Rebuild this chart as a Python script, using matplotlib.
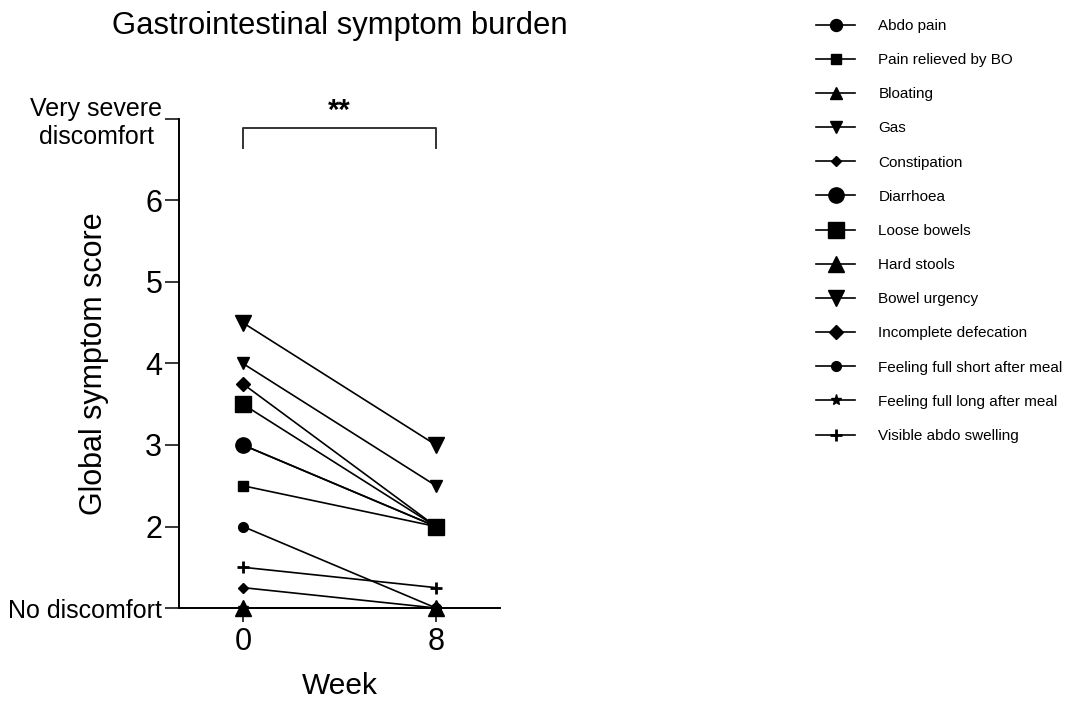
import matplotlib
matplotlib.use("Agg")
import matplotlib.pyplot as plt

plt.rcParams['font.family'] = ['Liberation Sans', 'DejaVu Sans']

weeks = [0, 8]
symptoms = [
    "Abdo pain", "Pain relieved by BO", "Bloating", "Gas", "Constipation",
    "Diarrhoea", "Loose bowels", "Hard stools", "Bowel urgency",
    "Incomplete defecation", "Feeling full short after meal",
    "Feeling full long after meal", "Visible abdo swelling",
]
week0 = [3.0, 2.5, 1.0, 4.0, 1.25, 3.0, 3.5, 1.0, 4.5, 3.75, 2.0, 1.0, 1.5]
week8 = [2.0, 2.0, 1.0, 2.5, 1.0, 2.0, 2.0, 1.0, 3.0, 2.0, 1.0, 1.0, 1.25]

markers = ['o', 's', '^', 'v', 'D', 'o', 's', '^', 'v', 'D', 'o', '*', '+']
msizes = [8.6, 7.5, 8, 8, 5, 11, 11, 11, 11, 7, 7, 8, 9]

y_ticks = [1, 2, 3, 4, 5, 6, 7]
y_labels = ["No discomfort", "2", "3", "4", "5", "6", "Very severe\ndiscomfort"]
x_ticks = [0, 8]

fig = plt.figure(figsize=(10.71, 7.02), dpi=100)
ax = fig.add_axes([0.1671, 0.1339, 0.2997, 0.6966])

for name, a, b, m, s in zip(symptoms, week0, week8, markers, msizes):
    # loose bowels square sits on top of the pile at week 8
    z = 4 if name == "Loose bowels" else 3
    ax.plot(weeks, [a, b], color='black', lw=1.2, marker=m, ms=s,
            mew=2 if m == '+' else 1, mfc='black', mec='black',
            clip_on=False, zorder=z, label=name)

ax.set_xlim(-2.65, 10.65)
ax.set_ylim(1, 7)
ax.set_xticks(x_ticks)
ax.set_yticks(y_ticks)
ax.set_yticklabels(y_labels)
for lab in ax.get_yticklabels():
    if lab.get_text().isdigit():
        lab.set_fontsize(22)
    else:
        lab.set_fontsize(18)
        lab.set_multialignment('center')
ax.tick_params(axis='x', labelsize=22, length=10, width=1.1, pad=4)
ax.tick_params(axis='y', length=10, width=1.1, pad=2)

for side in ['top', 'right']:
    ax.spines[side].set_visible(False)
for side in ['left', 'bottom']:
    ax.spines[side].set_linewidth(1.4)

ax.set_ylabel("Global symptom score", fontsize=22)
ax.yaxis.set_label_coords(-0.218, 0.5)
ax.set_xlabel("Week", fontsize=21.5)
ax.xaxis.set_label_coords(0.5, -0.131)

# significance bracket between week 0 and week 8
ax.plot([0, 0, 8, 8], [6.645, 6.89, 6.89, 6.645], color='#333333', lw=1.4,
        clip_on=False)
ax.text(4, 6.93, "**", ha='center', va='bottom', fontsize=21,
        fontweight='bold')

fig.text(340 / 1071, 1 - 26 / 702, "Gastrointestinal symptom burden",
         ha='center', va='center', fontsize=22.3)

fig.legend(loc='upper left', bbox_to_anchor=(0.7545, 0.984), frameon=False,
           fontsize=11, borderpad=0, handlelength=2.6, handletextpad=1.5,
           labelspacing=1.32)

fig.savefig("out.png", dpi=100)
